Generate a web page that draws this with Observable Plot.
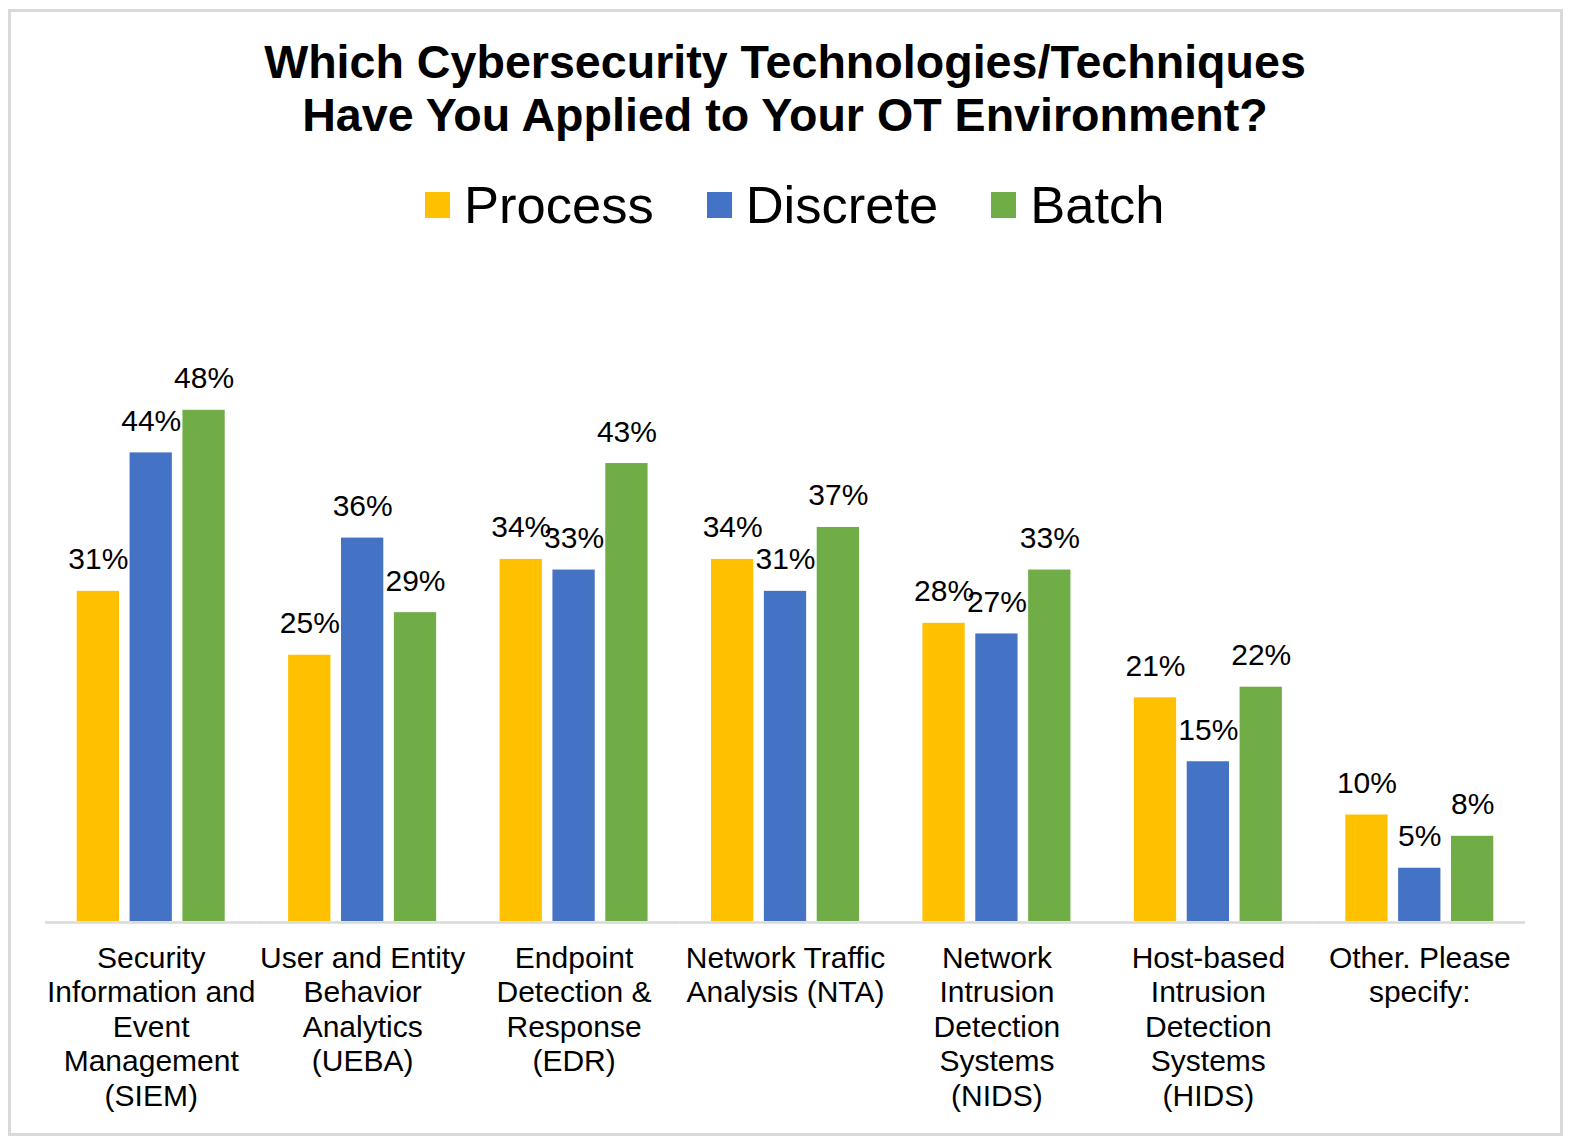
<!DOCTYPE html>
<html>
<head>
<meta charset="utf-8">
<script src="https://cdn.jsdelivr.net/npm/d3@7"></script>
<script src="https://cdn.jsdelivr.net/npm/@observablehq/plot@0.6"></script>
<style>
  html, body { margin: 0; padding: 0; background: #fff; }
  #wrap { position: relative; width: 1570px; height: 1139px; overflow: hidden; background: #fff;
          font-family: "Liberation Sans", Arial, sans-serif; color: #000; }
  #frame { position: absolute; left: 8px; top: 9px; width: 1549px; height: 1121px; border: 3px solid #d9d9d9; z-index: 5; pointer-events: none; }
  #title { position: absolute; left: 0; top: 36px; width: 1570px; text-align: center;
           font-weight: bold; font-size: 46.6px; line-height: 53px; }
  #legend { position: absolute; left: 425px; top: 175px; height: 60px; display: flex; align-items: center;
            font-size: 52.5px; line-height: 60px; }
  .item { display: flex; align-items: center; margin-right: 53px; }
  .sw { width: 25px; height: 26px; margin-right: 14px; }
  #chart { position: absolute; left: 0; top: 250px; }
</style>
</head>
<body>
<div id="wrap">
  <div id="title">Which Cybersecurity Technologies/Techniques<br>Have You Applied to Your OT Environment?</div>
  <div id="legend"></div>
  <div id="chart"></div>
  <div id="frame"></div>
</div>
<script>
const categories = [
  "Security\nInformation and\nEvent\nManagement\n(SIEM)",
  "User and Entity\nBehavior\nAnalytics\n(UEBA)",
  "Endpoint\nDetection &\nResponse\n(EDR)",
  "Network Traffic\nAnalysis (NTA)",
  "Network\nIntrusion\nDetection\nSystems\n(NIDS)",
  "Host-based\nIntrusion\nDetection\nSystems\n(HIDS)",
  "Other. Please\nspecify:"
];
const seriesNames = ["Process", "Discrete", "Batch"];
const seriesColors = ["#FFC000", "#4472C4", "#70AD47"];
const processValues = [31, 25, 34, 34, 28, 21, 10];
const discreteValues = [44, 36, 33, 31, 27, 15, 5];
const batchValues = [48, 29, 43, 37, 33, 22, 8];

const valuesBySeries = [processValues, discreteValues, batchValues];
const rows = [];
categories.forEach((c, i) => {
  seriesNames.forEach((s, j) => {
    rows.push({category: c, series: s, value: valuesBySeries[j][i] / 100, label: valuesBySeries[j][i] + "%"});
  });
});

// legend
const legend = document.getElementById("legend");
seriesNames.forEach((s, j) => {
  const it = document.createElement("div");
  it.className = "item";
  const sw = document.createElement("div");
  sw.className = "sw";
  sw.style.background = seriesColors[j];
  const tx = document.createElement("span");
  tx.textContent = s;
  it.appendChild(sw); it.appendChild(tx);
  legend.appendChild(it);
});

const plot = Plot.plot({
  width: 1570,
  height: 889,
  marginLeft: 45,
  marginRight: 45,
  marginTop: 32,
  marginBottom: 218,
  style: {fontFamily: "'Liberation Sans', Arial, sans-serif", color: "#000", background: "transparent"},
  fx: {domain: categories, padding: 0, round: false, axis: null},
  x: {domain: seriesNames, paddingInner: 0.2, paddingOuter: 0.6, round: false, axis: null},
  y: {domain: [0, 0.6], axis: null},
  color: {domain: seriesNames, range: seriesColors},
  marks: [
    Plot.ruleY([0], {stroke: "#d9d9d9", strokeWidth: 2.5, dy: 1}),
    Plot.barY(rows, {fx: "category", x: "series", y: "value", fill: "series"}),
    Plot.text(rows, {fx: "category", x: "series", y: "value", text: "label", dy: -22,
                     lineAnchor: "bottom", fontSize: 30, fill: "#000"}),
    Plot.text(categories, {fx: d => d, text: d => d, frameAnchor: "bottom", dy: 22,
                     lineAnchor: "top", fontSize: 30, lineHeight: 1.15, fill: "#000"})
  ]
});
document.getElementById("chart").appendChild(plot);
</script>
</body>
</html>
